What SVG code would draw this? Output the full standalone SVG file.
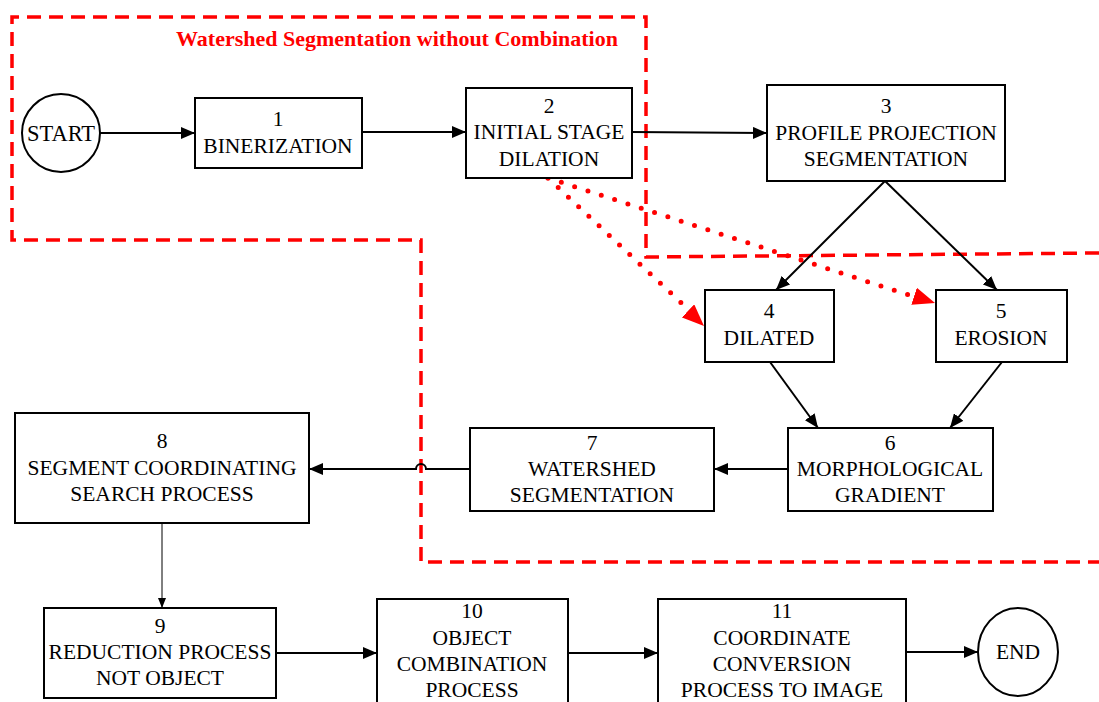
<svg xmlns="http://www.w3.org/2000/svg" width="1099" height="702" viewBox="0 0 1099 702">
<style>
  .box { fill: #fff; stroke: #000; stroke-width: 2; }
  .t { font-family: "Liberation Serif", Tinos, "Times New Roman", "Nimbus Roman", "DejaVu Serif", serif; font-size: 21.5px; fill: #000; text-anchor: middle; }
  .conn { fill: none; stroke: #000; stroke-width: 2; }
  .thin { fill: none; stroke: #000; stroke-width: 1; }
  .dash { fill: none; stroke: #f00; stroke-width: 3.5; stroke-dasharray: 14 8; }
  .dot { fill: none; stroke: #f00; stroke-width: 5; stroke-dasharray: 0 14; stroke-linecap: round; }
  .title { font-family: "Liberation Serif", Tinos, "Times New Roman", "Nimbus Roman", "DejaVu Serif", serif; font-size: 22px; font-weight: bold; fill: #f00; text-anchor: middle; }
</style>
<defs>
  <marker id="ah" markerUnits="userSpaceOnUse" markerWidth="14" markerHeight="12" refX="14" refY="6" orient="auto">
    <path d="M0,0 L14,6 L0,12 z" fill="#000"/>
  </marker>
  <marker id="ahs" markerUnits="userSpaceOnUse" markerWidth="10" markerHeight="8" refX="10" refY="4" orient="auto">
    <path d="M0,0 L10,4 L0,8 z" fill="#000"/>
  </marker>
  <marker id="ahr" markerUnits="userSpaceOnUse" markerWidth="22" markerHeight="18" refX="22" refY="9" orient="auto">
    <path d="M0,0 L22,9 L0,18 z" fill="#f00"/>
  </marker>
</defs>
<rect width="1099" height="702" fill="#fff"/>

<g id="boundary">
  <path class="dash" d="M1099,253 L646,257 L646,17 L12,17 L12,240 L421,240 L421,562 L1099,562"/>
  <text class="title" x="397" y="46">Watershed Segmentation without Combination</text>
</g>

<g id="connectors">
  <line class="conn" x1="100" y1="133" x2="195" y2="133" marker-end="url(#ah)"/>
  <line class="conn" x1="362" y1="132" x2="466" y2="132" marker-end="url(#ah)"/>
  <line class="conn" x1="632" y1="132" x2="767" y2="133" marker-end="url(#ah)"/>
  <line class="conn" x1="885" y1="181" x2="776" y2="290" marker-end="url(#ah)"/>
  <line class="conn" x1="885" y1="181" x2="997" y2="290" marker-end="url(#ah)"/>
  <line class="conn" x1="770" y1="362" x2="818" y2="428" marker-end="url(#ah)"/>
  <line class="conn" x1="1002" y1="362" x2="950" y2="428" marker-end="url(#ah)"/>
  <line class="conn" x1="788" y1="469" x2="714" y2="469" marker-end="url(#ah)"/>
  <path class="conn" d="M470,469 L426,469 A5,5 0 0 0 416,469 L309,469" marker-end="url(#ah)"/>
  <line class="thin" x1="162" y1="523" x2="162" y2="608" marker-end="url(#ahs)"/>
  <line class="conn" x1="276" y1="653" x2="377" y2="653" marker-end="url(#ah)"/>
  <line class="conn" x1="568" y1="653" x2="658" y2="653" marker-end="url(#ah)"/>
  <line class="conn" x1="906" y1="652" x2="978" y2="652" marker-end="url(#ah)"/>
  <path class="dot" d="M548,178 L690,311"/>
  <path fill="none" stroke="none" d="M548,178 L704,326" marker-end="url(#ahr)"/>
  <path class="dot" d="M548,178 L915,297"/>
  <path fill="none" stroke="none" d="M548,178 L935,303" marker-end="url(#ahr)"/>
</g>

<g id="start">
  <ellipse class="box" cx="61" cy="133" rx="39" ry="39"/>
  <text class="t" x="61" y="141" style="font-size:22.5px">START</text>
</g>
<g id="n1">
  <rect class="box" x="195" y="98" width="167" height="70"/>
  <text class="t" x="278" y="126">1</text>
  <text class="t" x="278" y="153">BINERIZATION</text>
</g>
<g id="n2">
  <rect class="box" x="466" y="88" width="166" height="90"/>
  <text class="t" x="549" y="113">2</text>
  <text class="t" x="549" y="139">INITIAL STAGE</text>
  <text class="t" x="549" y="166">DILATION</text>
</g>
<g id="n3">
  <rect class="box" x="767" y="85" width="238" height="96"/>
  <text class="t" x="886" y="113">3</text>
  <text class="t" x="886" y="140">PROFILE PROJECTION</text>
  <text class="t" x="886" y="166">SEGMENTATION</text>
</g>
<g id="n4">
  <rect class="box" x="705" y="290" width="129" height="72"/>
  <text class="t" x="769" y="318">4</text>
  <text class="t" x="769" y="345">DILATED</text>
</g>
<g id="n5">
  <rect class="box" x="936" y="290" width="131" height="72"/>
  <text class="t" x="1001" y="318">5</text>
  <text class="t" x="1001" y="345">EROSION</text>
</g>
<g id="n6">
  <rect class="box" x="788" y="428" width="205" height="83"/>
  <text class="t" x="890" y="450">6</text>
  <text class="t" x="890" y="476">MORPHOLOGICAL</text>
  <text class="t" x="890" y="502">GRADIENT</text>
</g>
<g id="n7">
  <rect class="box" x="470" y="428" width="244" height="83"/>
  <text class="t" x="592" y="450">7</text>
  <text class="t" x="592" y="476">WATERSHED</text>
  <text class="t" x="592" y="502">SEGMENTATION</text>
</g>
<g id="n8">
  <rect class="box" x="15" y="413" width="294" height="110"/>
  <text class="t" x="162" y="448">8</text>
  <text class="t" x="162" y="475">SEGMENT COORDINATING</text>
  <text class="t" x="162" y="501">SEARCH PROCESS</text>
</g>
<g id="n9">
  <rect class="box" x="44" y="608" width="232" height="90"/>
  <text class="t" x="160" y="633">9</text>
  <text class="t" x="160" y="659">REDUCTION PROCESS</text>
  <text class="t" x="160" y="685">NOT OBJECT</text>
</g>
<g id="n10">
  <rect class="box" x="377" y="599" width="191" height="110"/>
  <text class="t" x="472" y="618">10</text>
  <text class="t" x="472" y="645">OBJECT</text>
  <text class="t" x="472" y="671">COMBINATION</text>
  <text class="t" x="472" y="697">PROCESS</text>
</g>
<g id="n11">
  <rect class="box" x="658" y="599" width="248" height="110"/>
  <text class="t" x="782" y="618">11</text>
  <text class="t" x="782" y="645">COORDINATE</text>
  <text class="t" x="782" y="671">CONVERSION</text>
  <text class="t" x="782" y="697">PROCESS TO IMAGE</text>
</g>
<g id="end">
  <ellipse class="box" cx="1018" cy="652" rx="40" ry="44"/>
  <text class="t" x="1018" y="659">END</text>
</g>
</svg>
